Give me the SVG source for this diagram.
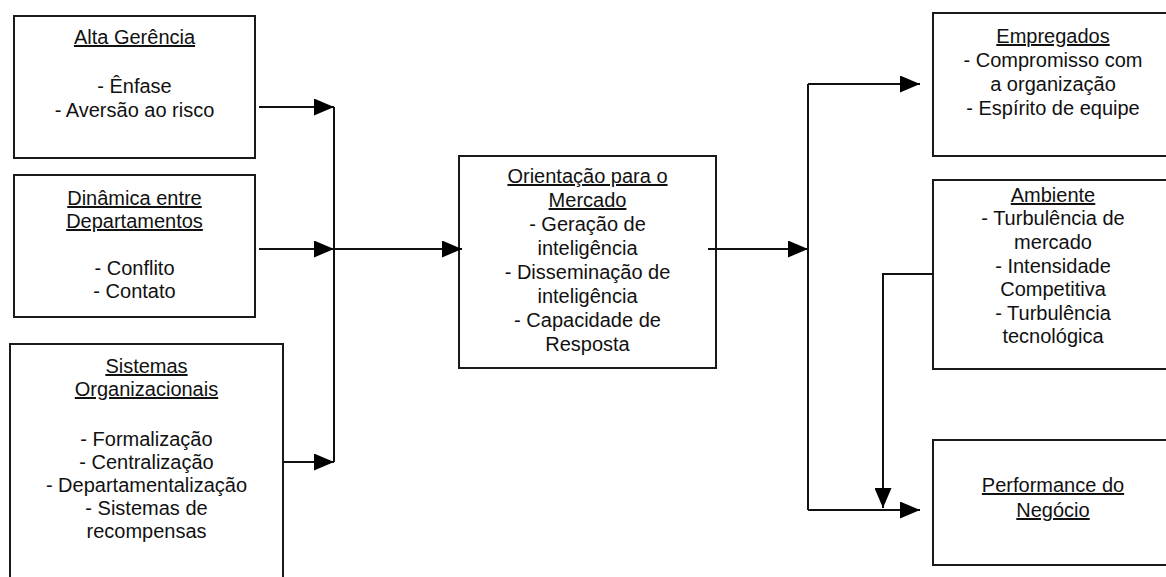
<svg xmlns="http://www.w3.org/2000/svg" width="1166" height="577" viewBox="0 0 1166 577">
<defs>
<style>
.box{fill:#fff;stroke:#1a1a1a;stroke-width:2}
.t{font-family:"Liberation Sans",Arial,sans-serif;font-size:20px;fill:#111;text-anchor:middle}
.u{text-decoration:underline}
.c{fill:none;stroke:#111;stroke-width:2}
</style>
<marker id="ah" viewBox="0 0 20 17" refX="20" refY="8.5" markerWidth="20" markerHeight="17" markerUnits="userSpaceOnUse" orient="auto">
<path d="M0,0 L20,8.5 L0,17 Z" fill="#000"/>
</marker>
</defs>
<rect width="1166" height="577" fill="#fff"/>
<g id="alta">
<rect class="box" x="14" y="16" width="241" height="142"/>
<text class="t" x="134.5" y="44"><tspan class="u">Alta Gerência</tspan></text>
<text class="t" x="134.5" y="93">- Ênfase</text>
<text class="t" x="134.5" y="117">- Aversão ao risco</text>
</g>
<g id="dinamica">
<rect class="box" x="14" y="175" width="241" height="142"/>
<text class="t" x="134.5" y="205"><tspan class="u">Dinâmica entre</tspan></text>
<text class="t" x="134.5" y="228"><tspan class="u">Departamentos</tspan></text>
<text class="t" x="134.5" y="275">- Conflito</text>
<text class="t" x="134.5" y="298">- Contato</text>
</g>
<g id="sistemas">
<rect class="box" x="10" y="344" width="273" height="250"/>
<text class="t" x="146.5" y="373"><tspan class="u">Sistemas</tspan></text>
<text class="t" x="146.5" y="396"><tspan class="u">Organizacionais</tspan></text>
<text class="t" x="146.5" y="446">- Formalização</text>
<text class="t" x="146.5" y="469">- Centralização</text>
<text class="t" x="146.5" y="492">- Departamentalização</text>
<text class="t" x="146.5" y="515">- Sistemas de</text>
<text class="t" x="146.5" y="538">recompensas</text>
</g>
<g id="orientacao">
<rect class="box" x="459" y="156" width="257" height="212"/>
<text class="t" x="587.5" y="183"><tspan class="u">Orientação para o</tspan></text>
<text class="t" x="587.5" y="207"><tspan class="u">Mercado</tspan></text>
<text class="t" x="587.5" y="231">- Geração de</text>
<text class="t" x="587.5" y="255">inteligência</text>
<text class="t" x="587.5" y="279">- Disseminação de</text>
<text class="t" x="587.5" y="303">inteligência</text>
<text class="t" x="587.5" y="327">- Capacidade de</text>
<text class="t" x="587.5" y="351">Resposta</text>
</g>
<g id="empregados">
<rect class="box" x="933" y="13" width="245" height="143"/>
<text class="t" x="1053" y="43"><tspan class="u">Empregados</tspan></text>
<text class="t" x="1053" y="67">- Compromisso com</text>
<text class="t" x="1053" y="91">a organização</text>
<text class="t" x="1053" y="115">- Espírito de equipe</text>
</g>
<g id="ambiente">
<rect class="box" x="933" y="180" width="245" height="189"/>
<text class="t" x="1053" y="202"><tspan class="u">Ambiente</tspan></text>
<text class="t" x="1053" y="225">- Turbulência de</text>
<text class="t" x="1053" y="249">mercado</text>
<text class="t" x="1053" y="273">- Intensidade</text>
<text class="t" x="1053" y="296">Competitiva</text>
<text class="t" x="1053" y="320">- Turbulência</text>
<text class="t" x="1053" y="343">tecnológica</text>
</g>
<g id="performance">
<rect class="box" x="933" y="440" width="245" height="125"/>
<text class="t" x="1053" y="492"><tspan class="u">Performance do</tspan></text>
<text class="t" x="1053" y="517"><tspan class="u">Negócio</tspan></text>
</g>
<g id="connectors">
<path class="c" d="M334,107 V462"/>
<path class="c" d="M259,107 H334" marker-end="url(#ah)"/>
<path class="c" d="M259,249 H334" marker-end="url(#ah)"/>
<path class="c" d="M284,462 H334" marker-end="url(#ah)"/>
<path class="c" d="M334,249 H462" marker-end="url(#ah)"/>
<path class="c" d="M708,249 H808" marker-end="url(#ah)"/>
<path class="c" d="M808,84 V510"/>
<path class="c" d="M808,84 H920" marker-end="url(#ah)"/>
<path class="c" d="M808,510 H920" marker-end="url(#ah)"/>
<path class="c" d="M933,274 H883 V508" marker-end="url(#ah)"/>
</g>
</svg>
